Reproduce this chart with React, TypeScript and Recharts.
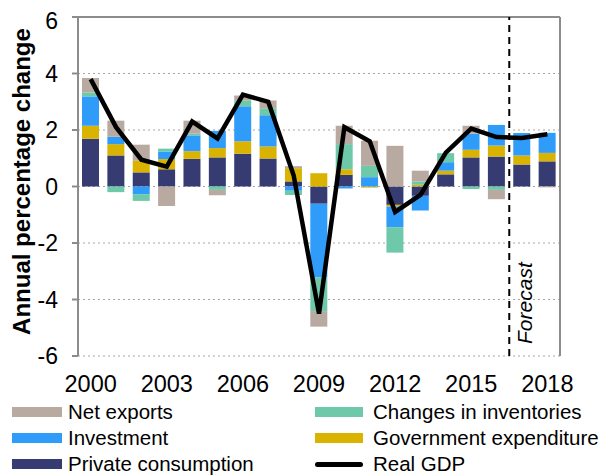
import React from 'react';
import { ComposedChart, Bar, Line, XAxis, YAxis, CartesianGrid, ReferenceLine } from 'recharts';

const years = ['2000', '2001', '2002', '2003', '2004', '2005', '2006', '2007', '2008', '2009', '2010', '2011', '2012', '2013', '2014', '2015', '2016', '2017', '2018'];
const privateConsumption = [1.69, 1.10, 0.50, 0.61, 0.98, 1.03, 1.16, 0.99, 0.18, -0.61, 0.41, 0.0, -0.65, -0.33, 0.43, 1.03, 1.06, 0.78, 0.89];
const governmentExpenditure = [0.46, 0.40, 0.41, 0.36, 0.27, 0.33, 0.44, 0.43, 0.47, 0.47, 0.20, -0.04, -0.06, 0.06, 0.13, 0.27, 0.39, 0.32, 0.30];
const investment = [1.04, 0.26, -0.27, 0.27, 0.56, 0.61, 1.24, 1.10, -0.15, -2.61, -0.07, 0.33, -0.73, -0.52, 0.30, 0.57, 0.73, 0.79, 0.71];
const inventories = [0.14, -0.20, -0.24, 0.10, 0.06, -0.12, 0.21, 0.25, -0.15, -1.19, 0.89, 0.40, -0.90, 0.12, 0.32, -0.09, -0.12, 0.0, 0.0];
const netExports = [0.51, 0.57, 0.57, -0.69, 0.46, -0.19, 0.17, 0.27, 0.07, -0.55, 0.65, 0.89, 1.44, 0.38, 0.0, 0.28, -0.33, 0.0, -0.03];
const realGDP = [3.8, 2.1, 0.95, 0.7, 2.3, 1.7, 3.25, 3.0, 0.4, -4.5, 2.1, 1.6, -0.9, -0.3, 1.2, 2.05, 1.75, 1.72, 1.85];
const yTicks = [-6, -4, -2, 0, 2, 4, 6];
const edgeTicks = Array.from({ length: years.length + 1 }, (_, i) => i);
const forecastStart = 17;

const data = years.map((year, i) => ({
  year,
  privateConsumption: privateConsumption[i],
  governmentExpenditure: governmentExpenditure[i],
  investment: investment[i],
  inventories: inventories[i],
  netExports: netExports[i],
  realGDP: realGDP[i],
}));

const COLORS = {
  netExports: '#B8A9A1',
  inventories: '#6DC9A9',
  investment: '#2E9CF8',
  government: '#D9B300',
  private: '#363B72',
};

const FONT = '"Liberation Sans", Arial, sans-serif';
const AXIS = '#8c8c8c';

const YTitle = (props: any) => {
  const { viewBox } = props;
  const x = 13.5;
  const y = viewBox.y + viewBox.height / 2 - 5;
  return (
    <text x={x} y={y} transform={`rotate(-90 ${x} ${y})`} textAnchor="middle" dominantBaseline="central"
      fontFamily={FONT} fontWeight="bold" fontSize={24} fill="#000">
      Annual percentage change
    </text>
  );
};

const ForecastLabel = (props: any) => {
  const { viewBox } = props;
  const x = viewBox.x + 23;
  const y = viewBox.y + viewBox.height * 0.844;
  return (
    <text x={x} y={y} transform={`rotate(-90 ${x} ${y})`} textAnchor="middle"
      fontFamily={FONT} fontStyle="italic" fontSize={21} fill="#000">
      Forecast
    </text>
  );
};

const legendItems = [
  { label: 'Net exports', color: COLORS.netExports, col: 0, row: 0 },
  { label: 'Changes in inventories', color: COLORS.inventories, col: 1, row: 0 },
  { label: 'Investment', color: COLORS.investment, col: 0, row: 1 },
  { label: 'Government expenditure', color: COLORS.government, col: 1, row: 1 },
  { label: 'Private consumption', color: COLORS.private, col: 0, row: 2 },
  { label: 'Real GDP', color: '#000', col: 1, row: 2, line: true },
];

export default function App() {
  return (
    <div style={{ position: 'relative', width: 599, height: 468, fontFamily: FONT }}>
      <style>{`html,body{overflow:hidden}`}</style>
      <ComposedChart width={599} height={468} data={data} stackOffset="sign"
        margin={{ top: 9, right: 47, left: 0, bottom: 90 }} barSize={17}>
        <CartesianGrid vertical={false} stroke="#a6a6a6" strokeDasharray="2 3" />
        <XAxis xAxisId="a_edges" type="number" dataKey={() => 0} domain={[0, years.length]} ticks={edgeTicks}
          tick={false} tickSize={7} height={0} axisLine={{ stroke: AXIS, strokeWidth: 2 }}
          tickLine={{ stroke: AXIS, strokeWidth: 2 }} allowDataOverflow />
        <XAxis xAxisId="b_labels" dataKey="year" interval={2} tickLine={false} axisLine={false}
          tickSize={0} tickMargin={19} height={30}
          tick={{ fill: '#000', fontSize: 23.5, fontFamily: FONT }} />
        <YAxis domain={[-6, 6]} ticks={yTicks} width={70} tickSize={6} tickMargin={14}
          axisLine={{ stroke: AXIS, strokeWidth: 2 }} tickLine={{ stroke: AXIS, strokeWidth: 2 }}
          tick={{ fill: '#000', fontSize: 23, fontFamily: FONT }} label={<YTitle />} />
        <Bar xAxisId="b_labels" dataKey="privateConsumption" stackId="s" fill={COLORS.private} isAnimationActive={false} />
        <Bar xAxisId="b_labels" dataKey="governmentExpenditure" stackId="s" fill={COLORS.government} isAnimationActive={false} />
        <Bar xAxisId="b_labels" dataKey="investment" stackId="s" fill={COLORS.investment} isAnimationActive={false} />
        <Bar xAxisId="b_labels" dataKey="inventories" stackId="s" fill={COLORS.inventories} isAnimationActive={false} />
        <Bar xAxisId="b_labels" dataKey="netExports" stackId="s" fill={COLORS.netExports} isAnimationActive={false} />
        <ReferenceLine xAxisId="a_edges" y={6} stroke={AXIS} strokeWidth={2} />
        <ReferenceLine xAxisId="a_edges" x={years.length} stroke={AXIS} strokeWidth={2} />
        <ReferenceLine xAxisId="a_edges" x={forecastStart} stroke="#000" strokeWidth={2} strokeDasharray="7 5"
          label={<ForecastLabel />} />
        <Line xAxisId="b_labels" dataKey="realGDP" type="linear" stroke="#000" strokeWidth={4.5} dot={false}
          isAnimationActive={false} />
      </ComposedChart>
      {legendItems.map((it) => (
        <div key={it.label} style={{
          position: 'absolute', left: it.col === 0 ? 4 : 307, top: 391 + it.row * 26, height: 26,
          display: 'flex', alignItems: 'center', fontSize: 20.5, color: '#000', whiteSpace: 'nowrap',
        }}>
          {it.line ? (
            <div style={{ width: 48, height: 5, background: '#000', borderRadius: 3 }} />
          ) : (
            <div style={{ width: it.col === 0 ? 50 : 48, height: 10, background: it.color }} />
          )}
          <span style={{ marginLeft: it.col === 0 ? 6 : 10 }}>{it.label}</span>
        </div>
      ))}
    </div>
  );
}
